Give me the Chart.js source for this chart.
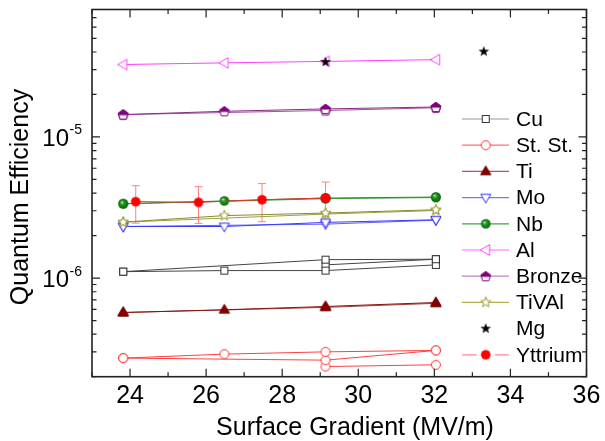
<!DOCTYPE html>
<html><head><meta charset="utf-8">
<script src="https://cdn.jsdelivr.net/npm/chart.js@4.4.0/dist/chart.umd.min.js"></script>
<style>html,body{margin:0;padding:0;background:#fff;}canvas{display:block;}</style>
</head><body>
<canvas id="c" width="605" height="441" style="width:605px;height:441px"></canvas>
<script>
const FONT = '"Liberation Sans", Arial, Helvetica, sans-serif';

// ---- data ----
const gradient = [23.82, 26.48, 29.14, 32.04];
const cuA = [1.11e-6, null, 1.35e-6, 1.36e-6];
const cuB = [1.11e-6, 1.13e-6, 1.13e-6, 1.24e-6];
const cuC = [null, null, 1.24e-6, 1.36e-6];
const ssA = [2.71e-7, 2.89e-7, 3.00e-7, 3.07e-7];
const ssB = [2.71e-7, null, 2.62e-7, 3.07e-7];
const ssC = [null, null, 2.36e-7, 2.43e-7];
const tiA = [5.70e-7, 5.96e-7, 6.29e-7, 6.71e-7];
const tiB = [5.70e-7, null, 6.20e-7, 6.62e-7];
const moA = [2.32e-6, 2.32e-6, 2.48e-6, 2.59e-6];
const moB = [2.32e-6, null, 2.41e-6, 2.57e-6];
const nbA = [3.36e-6, 3.52e-6, 3.69e-6, 3.75e-6];
const nbB = [3.36e-6, null, 3.65e-6, 3.72e-6];
const alA = [3.26e-5, 3.35e-5, 3.43e-5, 3.53e-5];
const bronzeA = [1.44e-5, 1.52e-5, 1.58e-5, 1.63e-5];
const bronzeB = [1.44e-5, null, 1.54e-5, 1.61e-5];
const tivalA = [2.49e-6, 2.77e-6, 2.89e-6, 3.05e-6];
const tivalB = [2.49e-6, null, 2.84e-6, 3.01e-6];
const mgX = [29.14, 33.30];
const mgY = [3.40e-5, 4.03e-5];
const yttriumX = [24.15, 25.80, 27.47, 29.14];
const yttriumY = [3.48e-6, 3.44e-6, 3.59e-6, 3.69e-6];
const yttriumErr = [1.03e-6, 1.00e-6, 1.08e-6, 1.10e-6];

const xTickValues = [24, 26, 28, 30, 32, 34, 36];
const xTickLabels = ['24', '26', '28', '30', '32', '34', '36'];
const yMajorTicks = [1e-6, 1e-5];
const yTickExponents = ['-6', '-5'];
const xMin = 23, xMax = 36, yMin = 2e-7, yMax = 8e-5;
const xTitle = 'Surface Gradient (MV/m)';
const yTitle = 'Quantum Efficiency';

const legendLabels = ['Cu', 'St. St.', 'Ti', 'Mo', 'Nb', 'Al', 'Bronze', 'TiVAl', 'Mg', 'Yttrium'];

// ---- markers ----
function mk(w, h, draw) {
  const c = document.createElement('canvas');
  c.width = w; c.height = h;
  const g = c.getContext('2d');
  g.translate(w / 2, h / 2);
  draw(g);
  return c;
}
function poly(g, pts) { g.beginPath(); g.moveTo(pts[0][0], pts[0][1]); for (let i = 1; i < pts.length; i++) g.lineTo(pts[i][0], pts[i][1]); g.closePath(); }
function starPts(R, r) { const p = []; for (let i = 0; i < 10; i++) { const a = -Math.PI / 2 + i * Math.PI / 5; const rr = i % 2 ? r : R; p.push([Math.cos(a) * rr, Math.sin(a) * rr]); } return p; }

const M = {
  cu: mk(12, 12, g => { g.fillStyle = '#fff'; g.fillRect(-3.5, -3.5, 7, 7); g.strokeStyle = '#333'; g.lineWidth = 1; g.strokeRect(-3.5, -3.5, 7, 7); }),
  ss: mk(14, 14, g => { g.beginPath(); g.arc(0, 0, 4.5, 0, Math.PI * 2); g.fillStyle = '#fff'; g.fill(); g.strokeStyle = '#ff3030'; g.lineWidth = 1; g.stroke(); }),
  ti: mk(14, 14, g => { poly(g, [[0, -5.5], [5.2, 3.3], [-5.2, 3.3]]); g.fillStyle = '#800000'; g.fill(); g.strokeStyle = '#800000'; g.lineWidth = 1; g.stroke(); }),
  mo: mk(14, 14, g => { poly(g, [[0, 5.3], [5.0, -3.3], [-5.0, -3.3]]); g.fillStyle = '#fff'; g.fill(); g.strokeStyle = '#3030ff'; g.lineWidth = 1; g.stroke(); }),
  nb: mk(14, 14, g => { const gr = g.createRadialGradient(-1.5, -1.6, 0.3, 0, 0, 5); gr.addColorStop(0, '#b8e8b8'); gr.addColorStop(0.35, '#1f9a1f'); gr.addColorStop(1, '#0a5e0a'); g.beginPath(); g.arc(0, 0, 4.8, 0, Math.PI * 2); g.fillStyle = gr; g.fill(); }),
  al: mk(16, 16, g => { poly(g, [[-5.5, 0], [3.8, -5.3], [3.8, 5.3]]); g.fillStyle = '#fff'; g.fill(); g.strokeStyle = '#ff40ff'; g.lineWidth = 1; g.stroke(); }),
  bronze: mk(14, 14, g => { const p = []; for (let i = 0; i < 5; i++) { const a = -Math.PI / 2 + i * 2 * Math.PI / 5; p.push([Math.cos(a) * 5.2, Math.sin(a) * 5.2 + 0.4]); } poly(g, p); g.fillStyle = '#fff'; g.fill(); g.save(); g.clip(); g.fillStyle = '#800080'; g.fillRect(-7, -7, 14, 7.6); g.restore(); poly(g, p); g.strokeStyle = '#800080'; g.lineWidth = 1; g.stroke(); }),
  tival: mk(14, 14, g => { poly(g, starPts(5.4, 2.3)); g.fillStyle = '#fff'; g.fill(); g.strokeStyle = '#999933'; g.lineWidth = 1; g.stroke(); }),
  mg: mk(14, 14, g => { poly(g, starPts(5.6, 2.3)); g.fillStyle = '#000'; g.fill(); }),
  y: mk(14, 14, g => { g.beginPath(); g.arc(0, 0, 4.8, 0, Math.PI * 2); g.fillStyle = '#ff0000'; g.fill(); })
};

function pts(xs, vals) { return xs.map((x, i) => vals[i] == null ? null : { x: x, y: vals[i] }).filter(Boolean); }
function ds(label, xs, vals, marker, color, extra) {
  return Object.assign({ label, data: pts(xs, vals), pointStyle: marker, pointRadius: 4, borderColor: color, backgroundColor: color, borderWidth: 1, showLine: true, tension: 0 }, extra || {});
}

const datasets = [
  ds('Mg', mgX, mgY, M.mg, '#000', { showLine: false }),
  ds('Yttrium', yttriumX, yttriumY, M.y, '#e83030', { errors: yttriumErr }),
  ds('Al', gradient, alA, M.al, '#ff40ff'),
  ds('Bronze', gradient, bronzeA, M.bronze, '#8a2a8a'),
  ds('Bronze', gradient, bronzeB, M.bronze, '#a050a0'),
  ds('Nb', gradient, nbA, M.nb, '#2a8a2a'),
  ds('Nb', gradient, nbB, M.nb, '#40a040'),
  ds('TiVAl', gradient, tivalA, M.tival, '#8a8a2a'),
  ds('TiVAl', gradient, tivalB, M.tival, '#a0a040'),
  ds('Mo', gradient, moA, M.mo, '#3a3aff'),
  ds('Mo', gradient, moB, M.mo, '#6060ff'),
  ds('Cu', gradient, cuA, M.cu, '#444'),
  ds('Cu', gradient, cuB, M.cu, '#444'),
  ds('Cu', gradient, cuC, M.cu, '#444'),
  ds('Ti', gradient, tiA, M.ti, '#8b1010'),
  ds('Ti', gradient, tiB, M.ti, '#a04040'),
  ds('St. St.', gradient, ssA, M.ss, '#ff4040'),
  ds('St. St.', gradient, ssB, M.ss, '#ff4040'),
  ds('St. St.', gradient, ssC, M.ss, '#ff4040')
];

const legendStyle = {
  'Cu': { m: M.cu, c: '#9a9a9a' },
  'St. St.': { m: M.ss, c: '#ff7070' },
  'Ti': { m: M.ti, c: '#b05858' },
  'Mo': { m: M.mo, c: '#7878ff' },
  'Nb': { m: M.nb, c: '#40a040' },
  'Al': { m: M.al, c: '#ff66ff' },
  'Bronze': { m: M.bronze, c: '#c080c0' },
  'TiVAl': { m: M.tival, c: '#b0b050' },
  'Mg': { m: M.mg, c: null },
  'Yttrium': { m: M.y, c: '#ff8a8a', gap: true }
};

const errorBars = {
  id: 'errorBars',
  beforeDatasetsDraw(chart) {
    const { ctx, scales: { x, y } } = chart;
    ctx.save();
    ctx.strokeStyle = '#ff8080'; ctx.lineWidth = 1;
    chart.data.datasets.forEach(d => {
      if (!d.errors) return;
      d.data.forEach((p, i) => {
        const e = d.errors[i];
        const px = x.getPixelForValue(p.x);
        const t = y.getPixelForValue(p.y + e), b = y.getPixelForValue(p.y - e);
        ctx.beginPath();
        ctx.moveTo(px, t); ctx.lineTo(px, b);
        ctx.moveTo(px - 4, t); ctx.lineTo(px + 4, t);
        ctx.moveTo(px - 4, b); ctx.lineTo(px + 4, b);
        ctx.stroke();
      });
    });
    ctx.restore();
  }
};

const frame = {
  id: 'frame',
  afterDraw(chart) {
    const { ctx, chartArea: a, scales: { x, y } } = chart;
    ctx.save();
    ctx.strokeStyle = '#222';
    ctx.lineWidth = 1.2;
    ctx.beginPath();
    for (let v = xMin; v <= xMax; v++) {
      const px = x.getPixelForValue(v);
      const len = xTickValues.includes(v) ? 8 : 4.5;
      ctx.moveTo(px, a.bottom); ctx.lineTo(px, a.bottom - len);
      ctx.moveTo(px, a.top); ctx.lineTo(px, a.top + len);
    }
    for (let e = -7; e <= -5; e++) {
      for (let m = 1; m <= 9; m++) {
        const v = m * Math.pow(10, e);
        if (v < yMin * 0.999 || v > yMax * 1.001) continue;
        const py = y.getPixelForValue(v);
        const len = m === 1 ? 8 : 4.5;
        ctx.moveTo(a.left, py); ctx.lineTo(a.left + len, py);
        ctx.moveTo(a.right, py); ctx.lineTo(a.right - len, py);
      }
    }
    ctx.stroke();
    ctx.lineWidth = 1.6;
    ctx.strokeRect(a.left, a.top, a.right - a.left, a.bottom - a.top);

    // y tick labels with superscript exponent
    ctx.fillStyle = '#000';
    ctx.textBaseline = 'alphabetic';
    yMajorTicks.forEach((v, i) => {
      const py = y.getPixelForValue(v);
      const rightEdge = a.left - 10;
      ctx.font = '14px ' + FONT;
      const sw = ctx.measureText(yTickExponents[i]).width;
      ctx.textAlign = 'left';
      ctx.fillText(yTickExponents[i], rightEdge - sw, py - 2.5);
      ctx.font = '24px ' + FONT;
      ctx.textAlign = 'right';
      ctx.fillText('10', rightEdge - sw - 0.5, py + 9);
    });

    // axis titles
    ctx.font = '25px ' + FONT;
    ctx.textAlign = 'center';
    ctx.textBaseline = 'alphabetic';
    ctx.fillText(xTitle, 355, 435);
    ctx.save();
    ctx.translate(28, 197);
    ctx.rotate(-Math.PI / 2);
    ctx.fillText(yTitle, 0, 0);
    ctx.restore();

    // legend
    const lx0 = 462, lx1 = 509, mx = 485.7, tx = 516;
    ctx.font = '21px ' + FONT;
    ctx.textAlign = 'left';
    ctx.textBaseline = 'middle';
    legendLabels.forEach((lab, i) => {
      const st = legendStyle[lab];
      const ly = 119 + i * 26.2;
      if (st.c) {
        ctx.strokeStyle = st.c; ctx.lineWidth = 1.2;
        ctx.beginPath();
        if (st.gap) {
          ctx.moveTo(lx0, ly); ctx.lineTo(mx - 9, ly);
          ctx.moveTo(mx + 9, ly); ctx.lineTo(lx1, ly);
        } else {
          ctx.moveTo(lx0, ly); ctx.lineTo(lx1, ly);
        }
        ctx.stroke();
      }
      ctx.drawImage(st.m, mx - st.m.width / 2, ly - st.m.height / 2);
      ctx.fillStyle = '#000';
      ctx.fillText(lab, tx, ly + 1);
    });
    ctx.restore();
  }
};

new Chart(document.getElementById('c'), {
  type: 'line',
  data: { datasets },
  options: {
    responsive: false,
    devicePixelRatio: 1,
    animation: false,
    events: [],
    layout: { padding: { top: 9.5, right: 14, bottom: 0, left: 0 } },
    plugins: { legend: { display: false }, tooltip: { enabled: false } },
    scales: {
      x: {
        type: 'linear', min: xMin, max: xMax, position: 'bottom',
        grid: { display: false, drawTicks: false, tickLength: 0 },
        border: { display: false },
        afterBuildTicks(s) { s.ticks = xTickValues.map(v => ({ value: v })); },
        ticks: { autoSkip: false, maxRotation: 0, padding: 4.6, color: '#000', font: { family: FONT, size: 25 }, callback: (v, i) => xTickLabels[i] },
        title: { display: false },
        afterFit(s) { s.height = 64.3; }
      },
      y: {
        type: 'logarithmic', min: yMin, max: yMax, position: 'left',
        grid: { display: false, drawTicks: false, tickLength: 0 },
        border: { display: false },
        ticks: { display: false },
        title: { display: false },
        afterFit(s) { s.width = 92; }
      }
    }
  },
  plugins: [errorBars, frame]
});
</script>
</body></html>
